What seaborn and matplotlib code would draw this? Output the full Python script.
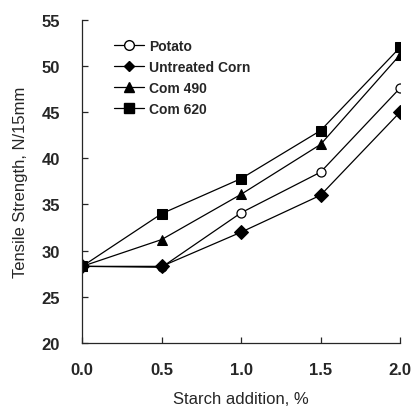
import matplotlib
matplotlib.use("Agg")
import matplotlib.pyplot as plt
import seaborn as sns
import pandas as pd
from matplotlib.lines import Line2D

starch = [0.0, 0.5, 1.0, 1.5, 2.0]
potato = [28.3, 28.2, 34.1, 38.5, 47.6]
untreated_corn = [28.3, 28.3, 32.0, 36.0, 45.0]
corn_490 = [28.3, 31.2, 36.1, 41.5, 51.2]
corn_620 = [28.3, 34.0, 37.8, 43.0, 52.0]
series_names = ["Potato", "Untreated Corn", "Com 490", "Com 620"]
yticks = [20, 25, 30, 35, 40, 45, 50, 55]
xticks = [0.0, 0.5, 1.0, 1.5, 2.0]

rows = []
for name, vals in zip(series_names, [potato, untreated_corn, corn_490, corn_620]):
    for x, y in zip(starch, vals):
        rows.append({"Starch": x, "Strength": y, "Series": name})
df = pd.DataFrame(rows)

sns.set_style("ticks")
plt.rcParams["font.family"] = ["Liberation Sans", "DejaVu Sans"]

fig = plt.figure(figsize=(4.15, 4.14), dpi=100)
ax = fig.add_axes([0.198, 0.169, 0.766, 0.781])

markers = {"Potato": "o", "Untreated Corn": "D", "Com 490": "^", "Com 620": "s"}
palette = {n: "black" for n in series_names}
sns.lineplot(data=df, x="Starch", y="Strength", hue="Series", style="Series",
             markers=markers, dashes=False, palette=palette, ax=ax,
             linewidth=0.9, markersize=7, legend=False)
for line in ax.lines:
    if line.get_marker() == "o":
        line.set_markerfacecolor("white")
        line.set_markeredgecolor("black")
        line.set_markeredgewidth(0.9)
        line.set_markersize(6.5)
    else:
        line.set_markeredgecolor("black")

handles = []
for n in series_names:
    m = markers[n]
    handles.append(Line2D([], [], color="black", lw=0.9, marker=m,
                          markersize=7 if m != "D" else 5.5,
                          markerfacecolor="white" if m == "o" else "black",
                          markeredgecolor="black"))
leg = ax.legend(handles, series_names, loc="upper left", frameon=False,
                bbox_to_anchor=(0.06, 0.98), handlelength=2.2, handletextpad=0.35,
                labelspacing=0.5, prop={"weight": "bold", "size": 10})

ax.set_xlim(0, 2.0)
ax.set_ylim(20, 55)
ax.set_xticks(xticks)
ax.set_xticklabels([f"{t:.1f}" for t in xticks], fontsize=12)
ax.set_yticks(yticks)
ax.set_yticklabels([str(t) for t in yticks], fontsize=12)
ax.tick_params(axis="x", direction="in", length=4, width=0.9, pad=14)
ax.tick_params(axis="y", direction="in", length=4, width=0.9, pad=16)
for s in ["top", "right"]:
    ax.spines[s].set_visible(False)
for s in ["left", "bottom"]:
    ax.spines[s].set_linewidth(0.9)
ax.set_xlabel("Starch addition, %", fontsize=12, labelpad=10)
ax.set_ylabel("Tensile Strength, N/15mm", fontsize=12, labelpad=10)
for lbl in ax.get_xticklabels() + ax.get_yticklabels():
    lbl.set_fontweight("bold")

fig.savefig("out.png", dpi=100)
